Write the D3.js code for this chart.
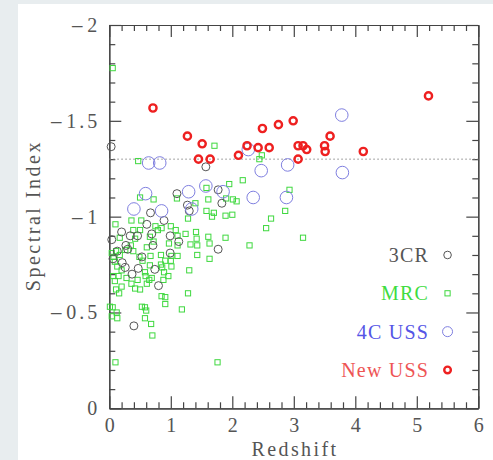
<!DOCTYPE html>
<html>
<head>
<meta charset="utf-8">
<script src="https://cdn.jsdelivr.net/npm/d3@7"></script>
<style>
  body { margin: 0; background: #e8edef; }
  svg { display: block; }
  .tick text { font-family: "Liberation Serif", serif; fill: #555; }
</style>
</head>
<body>
<script>
// Redshift vs spectral index for four radio samples

var xTicks = [0, 1, 2, 3, 4, 5, 6];
var yTicks = [0, -0.5, -1, -1.5, -2];
var usCut = -1.3;

var seriesNames = ["3CR", "MRC", "4C USS", "New USS"];
var legendY = [-0.8, -0.6, -0.4, -0.2];

var cr3 = [[0.03,-1.365],[1.10,-1.12],[1.57,-1.26],[1.27,-1.06],[1.30,-1.03],[1.77,-1.14],
  [1.83,-1.07],[0.67,-1.02],[0.89,-0.98],[0.61,-0.96],[1.77,-0.83],[1.13,-0.87],[0.99,-0.90],
  [0.69,-0.91],[0.46,-0.90],[0.34,-0.90],[0.20,-0.92],[0.04,-0.88],[0.27,-0.85],[0.71,-0.85],
  [0.30,-0.83],[0.99,-0.81],[0.53,-0.79],[0.21,-0.76],[0.47,-0.73],[0.74,-0.725],[0.37,-0.70],
  [0.13,-0.82],[0.06,-0.78],[0.26,-0.735],[0.80,-0.64],[0.40,-0.43]];

var mrc = [[0.055,-1.775],[0.47,-1.29],[0.50,-1.10],[1.10,-1.095],[0.72,-1.09],[1.71,-1.37],
  [2.17,-1.19],[1.95,-1.17],[1.58,-1.15],[1.90,-1.095],[2.01,-1.09],[2.07,-1.08],[1.61,-1.09],
  [1.40,-1.07],[1.58,-1.03],[1.70,-1.02],[1.67,-1.00],[1.89,-1.005],[2.00,-1.01],[1.28,-0.99],
  [0.36,-0.98],[0.52,-0.98],[1.00,-0.95],[0.85,-0.94],[0.79,-0.93],[0.75,-0.95],[0.10,-0.96],
  [1.08,-0.93],[1.11,-0.90],[1.24,-0.91],[1.41,-0.92],[1.42,-0.885],[1.61,-0.895],[1.89,-0.89],
  [1.32,-0.855],[1.63,-0.86],[2.28,-0.85],[0.39,-0.93],[0.50,-0.93],[0.17,-0.89],[0.42,-0.885],
  [0.66,-0.895],[0.72,-0.87],[0.97,-0.86],[1.11,-0.85],[0.61,-0.84],[0.35,-0.85],[0.26,-0.826],
  [0.39,-0.82],[0.11,-0.82],[0.07,-0.79],[0.17,-0.80],[0.49,-0.79],[0.67,-0.795],[0.84,-0.80],
  [1.01,-0.795],[1.11,-0.795],[1.43,-0.80],[1.63,-0.78],[1.00,-0.77],[0.91,-0.77],[0.84,-0.75],
  [0.66,-0.746],[0.54,-0.77],[0.09,-0.765],[0.13,-0.74],[0.20,-0.72],[0.58,-0.71],[0.86,-0.735],
  [0.89,-0.71],[1.01,-0.74],[1.30,-0.72],[0.065,-0.69],[0.59,-0.69],[0.15,-0.69],[0.28,-0.68],
  [0.46,-0.67],[0.36,-0.65],[0.65,-0.67],[0.61,-0.65],[0.69,-0.68],[0.88,-0.67],[0.96,-0.69],
  [0.85,-0.585],[0.91,-0.58],[0.42,-0.625],[0.50,-0.62],[0.20,-0.635],[0.11,-0.62],[1.28,-0.60],
  [0.09,-0.664],[0.16,-0.60],[0.91,-0.544],[0.53,-0.53],[0.58,-0.527],[0.60,-0.51],[1.18,-0.516],
  [0.01,-0.53],[0.055,-0.527],[0.04,-0.48],[0.13,-0.47],[0.12,-0.50],[0.58,-0.47],[0.68,-0.44],
  [0.70,-0.38],[0.10,-0.24],[1.76,-0.24],[0.04,-0.81],[2.93,-1.14],[2.86,-1.03],[2.63,-0.99],
  [2.55,-0.94],[3.15,-0.89],[2.44,-1.30],[2.48,-1.32],[1.43,-0.85]];

var uss4c = [[0.64,-1.28],[0.82,-1.28],[0.59,-1.12],[0.40,-1.04],[0.85,-1.03],[1.29,-1.13],
  [1.34,-1.04],[1.57,-1.16],[1.85,-1.13],[2.26,-1.35],[2.34,-1.10],[2.47,-1.24],[2.88,-1.10],
  [2.90,-1.27],[3.78,-1.53],[3.79,-1.23]];

var newUss = [[0.71,-1.567],[1.27,-1.42],[1.51,-1.38],[1.45,-1.30],[1.64,-1.30],[2.24,-1.37],
  [2.10,-1.32],[2.42,-1.36],[2.49,-1.46],[2.60,-1.36],[2.75,-1.48],[2.99,-1.50],[3.07,-1.37],
  [3.15,-1.37],[3.21,-1.35],[3.07,-1.30],[3.50,-1.37],[3.51,-1.34],[3.59,-1.42],[4.13,-1.34],
  [5.19,-1.63]];

var width = 493, height = 460;

var svg = d3.select("body").append("svg")
    .attr("width", width)
    .attr("height", height);

// white panel
svg.append("rect")
    .attr("x", 18).attr("y", 4)
    .attr("width", width - 18).attr("height", height - 4)
    .attr("fill", "#fff");

var x = d3.scaleLinear().domain([0, 6]).range([109.3, 478.3]);
var y = d3.scaleLinear().domain([0, -2]).range([408.3, 25]);

var xMinor = d3.range(0, 30).map(function(i) { return i * 0.2; }).filter(function(v) { return Math.abs(v - Math.round(v)) > 1e-6; });
var yMinor = d3.range(0, 20).map(function(i) { return -i * 0.1; }).filter(function(v) { return Math.abs(v * 2 - Math.round(v * 2)) > 1e-6; });

function fmt(d) { return d == 0 ? "0" : "\u2212" + Math.abs(d); }

function styleAxis(g) {
  g.selectAll("path, line").attr("stroke", "#444").attr("stroke-width", 1.2);
}

// bottom
svg.append("g").attr("transform", "translate(0," + y(0) + ")")
    .call(d3.axisBottom(x).tickValues(xTicks).tickSize(-12).tickSizeOuter(0).tickPadding(24).tickFormat(d3.format("d")))
    .call(styleAxis)
    .selectAll("text").attr("font-size", 20).attr("dy", "0");
svg.append("g").attr("transform", "translate(0," + y(0) + ")")
    .call(d3.axisBottom(x).tickValues(xMinor).tickSize(-6).tickSizeOuter(0).tickFormat(""))
    .call(styleAxis);
// top
svg.append("g").attr("transform", "translate(0," + y(-2) + ")")
    .call(d3.axisTop(x).tickValues(xTicks).tickSize(-12).tickSizeOuter(0).tickFormat(""))
    .call(styleAxis);
svg.append("g").attr("transform", "translate(0," + y(-2) + ")")
    .call(d3.axisTop(x).tickValues(xMinor).tickSize(-6).tickSizeOuter(0).tickFormat(""))
    .call(styleAxis);
// left, long minus drawn in a wider face
svg.append("g").attr("transform", "translate(" + x(0) + ",0)")
    .call(d3.axisLeft(y).tickValues(yTicks).tickSize(-12).tickSizeOuter(0).tickPadding(9).tickFormat(fmt))
    .call(styleAxis)
    .selectAll("text").attr("font-size", 20).attr("letter-spacing", 3)
    .each(function(d) {
      var t = d3.select(this), s = fmt(d);
      if (s.charAt(0) != "\u2212") return;
      t.text(null);
      t.append("tspan").attr("font-family", "DejaVu Serif").attr("font-weight", "300")
        .attr("font-size", 17).text("\u2212");
      t.append("tspan").text(s.slice(1));
    });
svg.append("g").attr("transform", "translate(" + x(0) + ",0)")
    .call(d3.axisLeft(y).tickValues(yMinor).tickSize(-6).tickSizeOuter(0).tickFormat(""))
    .call(styleAxis);
// right
svg.append("g").attr("transform", "translate(" + x(6) + ",0)")
    .call(d3.axisRight(y).tickValues(yTicks).tickSize(-12).tickSizeOuter(0).tickFormat(""))
    .call(styleAxis);
svg.append("g").attr("transform", "translate(" + x(6) + ",0)")
    .call(d3.axisRight(y).tickValues(yMinor).tickSize(-6).tickSizeOuter(0).tickFormat(""))
    .call(styleAxis);

// axis titles
svg.append("text")
    .attr("x", (x(0) + x(6)) / 2 + 1.2).attr("y", 456)
    .attr("text-anchor", "middle")
    .attr("font-family", "Liberation Serif, serif").attr("font-size", 20)
    .attr("fill", "#555").attr("letter-spacing", 2.4)
    .text("Redshift");
svg.append("text")
    .attr("transform", "translate(40," + ((y(0) + y(-2)) / 2 - 1) + ") rotate(-90)")
    .attr("text-anchor", "middle")
    .attr("font-family", "Liberation Serif, serif").attr("font-size", 20)
    .attr("fill", "#555").attr("letter-spacing", 2.5)
    .text("Spectral Index");

// steep-spectrum cut
svg.append("line")
    .attr("x1", x(0)).attr("x2", x(6))
    .attr("y1", y(usCut)).attr("y2", y(usCut))
    .attr("stroke", "#888").attr("stroke-width", 1)
    .attr("stroke-dasharray", "1.5,2.5");

var styles = [
  { data: cr3, shape: "circle", r: 4, lr: 3.8, stroke: "#555", sw: 1, text: "#555" },
  { data: mrc, shape: "square", r: 2.6, lr: 2.6, stroke: "#3fd83f", sw: 1, text: "#3fdc3f" },
  { data: uss4c, shape: "circle", r: 6.3, lr: 5, stroke: "#7f7fe0", sw: 1, text: "#5555e6" },
  { data: newUss, shape: "circle", r: 3.6, lr: 3.3, stroke: "#ee2020", sw: 2.4, text: "#ee5555" }
];

var plot = svg.append("g");

function drawMark(g, s, px, py, r) {
  if (s.shape == "circle") {
    g.append("circle").attr("cx", px).attr("cy", py).attr("r", r)
      .attr("fill", "none").attr("stroke", s.stroke).attr("stroke-width", s.sw);
  } else {
    g.append("rect").attr("x", px - r).attr("y", py - r)
      .attr("width", 2 * r).attr("height", 2 * r)
      .attr("fill", "none").attr("stroke", s.stroke).attr("stroke-width", s.sw);
  }
}

// draw order: MRC, 3CR, 4C, New USS
[1, 0, 2, 3].forEach(function(i) {
  var s = styles[i];
  s.data.forEach(function(d) { drawMark(plot, s, x(d[0]), y(d[1]), s.r); });
});

// legend
styles.forEach(function(s, i) {
  drawMark(plot, s, x(5.5), y(legendY[i]), s.lr);
  svg.append("text")
    .attr("x", x(5.18) + 1.2).attr("y", y(legendY[i]))
    .attr("dy", "0.35em")
    .attr("text-anchor", "end")
    .attr("font-family", "Liberation Serif, serif").attr("font-size", 20)
    .attr("fill", s.text).attr("letter-spacing", 1.2)
    .text(seriesNames[i]);
});
</script>
</body>
</html>
